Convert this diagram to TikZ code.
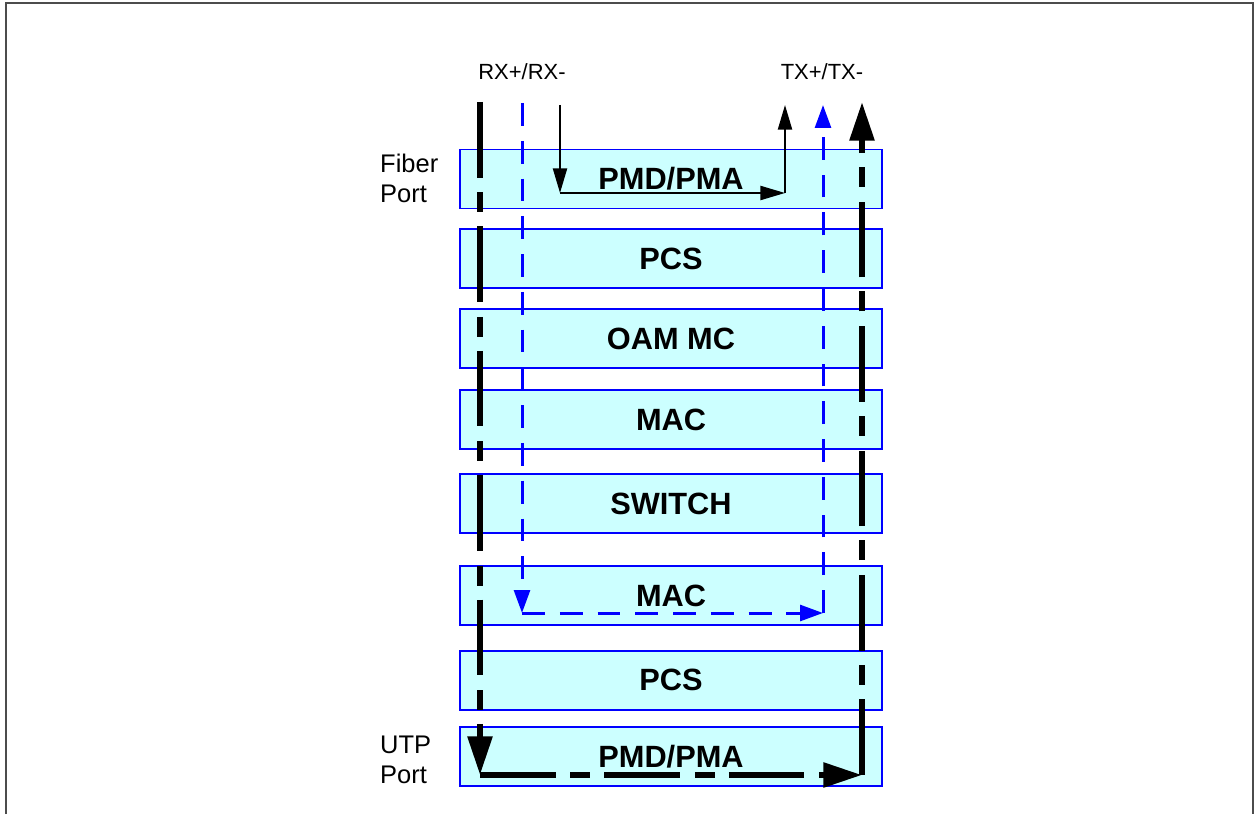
\documentclass[tikz,border=0pt]{standalone}
\usepackage{fontspec}
\setmainfont{Liberation Sans}
\usepackage{tikz}
\usetikzlibrary{arrows,arrows.meta}

\definecolor{layerfill}{HTML}{CCFFFF}

\begin{document}
\begin{tikzpicture}[x=0.02cm,y=-0.02cm,node distance=1.6cm,
  layer/.style={draw=blue,fill=layerfill,line width=1.1pt,inner sep=0pt,
    minimum width=8.44cm,minimum height=1.18cm,
    font=\fontsize{17.5}{21}\selectfont\bfseries},
  pinlbl/.style={font=\fontsize{12.5}{14}\selectfont},
  portlbl/.style={anchor=west,align=left,font=\fontsize{14.5}{17}\selectfont},
  thickflow/.style={line width=3.4pt,dash pattern=on 43pt off 8.5pt on 11.3pt off 8pt,
    -{Triangle[length=22pt,width=13.6pt]}},
  blueflow/.style={blue,line width=1.7pt,dash pattern=on 13pt off 8.5pt,
    -{Triangle[length=13pt,width=9pt]}},
  thinflow/.style={line width=1.1pt,-{Triangle[length=14pt,width=8pt]}}]
\useasboundingbox (0,0) rectangle (1256,814);
\draw[gray!60!black,line width=1.1pt] (6,814) -- (6,3) -- (1253,3) -- (1253,814);

\node[layer]          (l_1) at (671,179)                          {PMD/PMA};
\node[layer]          (l_2) [node distance=1.59cm,below of=l_1]   {PCS};
\node[layer]          (l_3) [below of=l_2]                        {OAM MC};
\node[layer]          (l_4) [node distance=1.63cm,below of=l_3]   {MAC};
\node[layer]          (l_5) [node distance=1.68cm,below of=l_4]   {SWITCH};
\node[layer]          (l_6) [node distance=1.83cm,below of=l_5]   {MAC};
\node[layer]          (l_7) [node distance=1.70cm,below of=l_6]   {PCS};
\node[layer]          (l_8) [node distance=1.52cm,below of=l_7]   {PMD/PMA};

\node[pinlbl]         (rx)  at (522,72)   {RX+/RX-};
\node[pinlbl]         (tx)  at (822,72)   {TX+/TX-};
\node[portlbl]        (fib) at (374,178)  {Fiber\\Port};
\node[portlbl]        (utp) at (374,760)  {UTP\\Port};

\coordinate (rx_a) at (480,102);
\coordinate (rx_b) at (522,103);
\coordinate (rx_c) at (560,105);
\coordinate (tx_c) at (785,105);
\coordinate (tx_b) at (823,105);
\coordinate (tx_a) at (862,102);
\coordinate (k_a)  at (480,775);
\coordinate (m_a)  at (862,775);
\coordinate (k_b)  at (522,613);
\coordinate (m_b)  at (823,613);
\coordinate (k_c)  at (560,193);
\coordinate (m_c)  at (785,193);

\path[thickflow]
          (rx_a) edge (k_a)
          (k_a)  edge (m_a)
          (m_a)  edge (tx_a);
\path[blueflow]
          (rx_b) edge (k_b)
          (k_b)  edge (m_b)
          (m_b)  edge (tx_b);
\path[thinflow]
          (rx_c) edge (k_c)
          (k_c)  edge (m_c)
          (m_c)  edge (tx_c);
\end{tikzpicture}
\end{document}
